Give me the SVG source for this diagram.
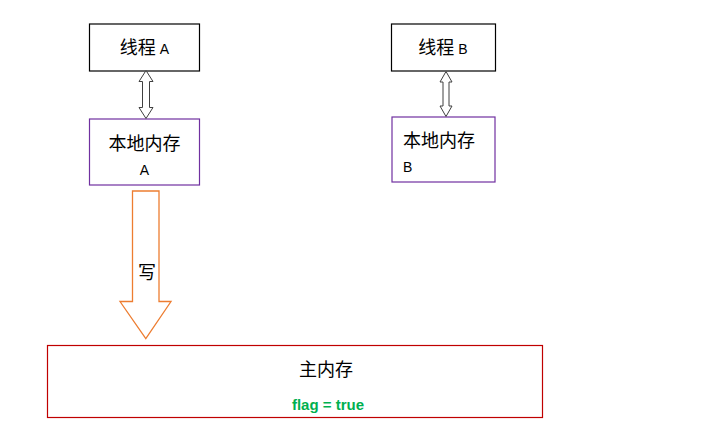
<svg xmlns="http://www.w3.org/2000/svg" width="714" height="437" viewBox="0 0 714 437">
  <style>
    .cjk { font-family: "Noto Sans CJK SC", "Liberation Sans", sans-serif; font-size: 18px; fill: #000; }
    .lat { font-family: "Liberation Sans", "Noto Sans CJK SC", sans-serif; font-size: 14px; fill: #000; }
    .thread { fill: #fff; stroke: #000; stroke-width: 1.2; }
    .local { fill: #fff; stroke: #7030A0; stroke-width: 1.2; }
    .main { fill: #fff; stroke: #C00000; stroke-width: 1.2; }
    .dbl { fill: #fff; stroke: #404040; stroke-width: 1; }
    .write { fill: #fff; stroke: #ED7D31; stroke-width: 1.3; }
  </style>
  <rect width="714" height="437" fill="#fff"/>

  <g id="threadA">
    <rect class="thread" x="89.5" y="24" width="110" height="47"/>
    <text x="144.5" y="54" text-anchor="middle"><tspan class="cjk">线程</tspan><tspan class="lat" dx="4">A</tspan></text>
  </g>

  <g id="localA">
    <rect class="local" x="89.5" y="119" width="110" height="66"/>
    <text class="cjk" x="144.5" y="150" text-anchor="middle">本地内存</text>
    <text class="lat" x="144.5" y="175" text-anchor="middle">A</text>
  </g>

  <g id="threadB">
    <rect class="thread" x="391.5" y="24" width="104" height="47"/>
    <text x="443" y="54" text-anchor="middle"><tspan class="cjk">线程</tspan><tspan class="lat" dx="4">B</tspan></text>
  </g>

  <g id="localB">
    <rect class="local" x="392" y="117" width="103" height="65"/>
    <text class="cjk" x="403" y="147">本地内存</text>
    <text class="lat" x="403" y="172">B</text>
  </g>

  <g id="mainMemory">
    <rect class="main" x="47.5" y="345.5" width="495" height="72"/>
    <text class="cjk" x="326" y="376" text-anchor="middle">主内存</text>
    <text x="328" y="410" text-anchor="middle" font-family="Liberation Sans, sans-serif" font-size="15" font-weight="bold" fill="#00B050">flag = true</text>
  </g>

  <g id="connectors">
    <!-- thread A <-> local A -->
    <path class="dbl" d="M146 70.5 L153 81.5 L149.5 81.5 L149.5 107.5 L153 107.5 L146 118.5 L139 107.5 L142.5 107.5 L142.5 81.5 L139 81.5 Z"/>
    <!-- thread B <-> local B -->
    <path class="dbl" d="M446 71.5 L452 82 L449 82 L449 106 L452 106 L446 116.5 L440 106 L443 106 L443 82 L440 82 Z"/>
    <!-- write: local A -> main memory -->
    <path class="write" d="M132.5 191 L159 191 L159 301.5 L171 301.5 L145.8 338.5 L120 301.5 L132.5 301.5 Z"/>
    <text class="cjk" x="147" y="279" text-anchor="middle">写</text>
  </g>
</svg>
